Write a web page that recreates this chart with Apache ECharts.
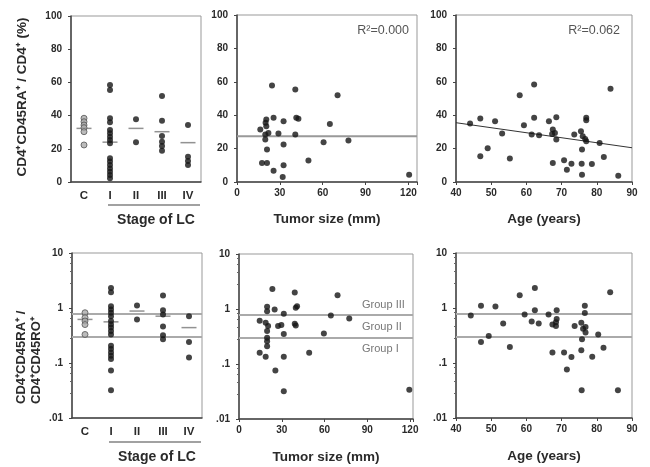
<!DOCTYPE html>
<html>
<head>
<meta charset="utf-8">
<script src="https://cdn.jsdelivr.net/npm/echarts@6/dist/echarts.min.js"></script>
<style>
  html, body { margin: 0; padding: 0; background: #fff; }
  #chart { width: 650px; height: 467px; }
</style>
</head>
<body>
<div id="chart"></div>
<script>
// stage groups
const stages = ['C', 'I', 'II', 'III', 'IV'];

// % CD45RA+ by stage
const pctByStage = [
  ['C', 38.4], ['C', 36.3], ['C', 34.3], ['C', 32.7], ['C', 30.3], ['C', 22.3],
  ['I', 58.4], ['I', 55.4], ['I', 38.4], ['I', 36], ['I', 31.3], ['I', 29.3], ['I', 27.3],
  ['I', 25.3], ['I', 23.3], ['I', 14.3], ['I', 12.3], ['I', 10.2], ['I', 8.2], ['I', 6.2],
  ['I', 4.2], ['I', 2.2],
  ['II', 37.8], ['II', 23.9],
  ['III', 51.8], ['III', 36.9], ['III', 27.7], ['III', 24.3], ['III', 21.7], ['III', 18.9],
  ['IV', 34.3], ['IV', 15.2], ['IV', 12.6], ['IV', 10.2]
];
const pctMeans = [['C', 32.3], ['I', 24], ['II', 32.3], ['III', 30.3], ['IV', 23.7]];

// % vs tumor size
const pctBySize = [
  [24.5, 57.8], [40.8, 55.4], [70.4, 52], [16.3, 31.4], [20.5, 37.4], [20, 35.5],
  [25.6, 38.4], [32.6, 36.4], [41.5, 38.4], [43, 37.8], [65, 34.8], [19.8, 28.4],
  [22, 29.4], [29, 29], [40.8, 28.4], [32.6, 22.4], [60.6, 23.8], [78, 24.8],
  [21, 19.4], [17.5, 11.4], [21, 11.4], [50, 12.8], [32.6, 10], [25.6, 6.8],
  [32, 3], [120.5, 4.4], [20.5, 33.4], [19.8, 25.4]
];
const pctSizeFit = [[0, 27.4], [126, 27.4]];

// % vs age
const pctByAge = [
  [44, 35], [46.9, 38], [51.1, 36.4], [53.1, 29], [46.9, 15.4], [49, 20.2], [55.3, 14],
  [58.1, 52], [62.2, 58.4], [59.3, 34], [62.2, 38.4], [61.5, 28.4], [63.6, 28],
  [66.4, 36.4], [68.5, 38.8], [67.5, 31.4], [68.1, 29.4], [67.3, 28.8], [68.5, 25.4],
  [67.5, 11.4], [70.7, 13], [71.5, 7.4], [72.8, 11], [73.6, 28.4], [75.5, 30.4],
  [76, 27.4], [76.7, 25.8], [77, 24.4], [75.8, 19.4], [75.7, 11], [75.8, 4.4],
  [77, 38.4], [77, 37], [78.6, 10.8], [80.8, 23.4], [82, 15], [83.9, 55.8], [86.1, 3.8]
];
const pctAgeFit = [[40, 35.5], [90, 20.5]];

// RA/RO ratio by stage
const ratioByStage = [
  ['C', 0.82], ['C', 0.67], ['C', 0.58], ['C', 0.5], ['C', 0.33],
  ['I', 2.31], ['I', 1.93], ['I', 1.08], ['I', 0.94], ['I', 0.82], ['I', 0.71], ['I', 0.58],
  ['I', 0.5], ['I', 0.44], ['I', 0.38], ['I', 0.33], ['I', 0.205], ['I', 0.179],
  ['I', 0.156], ['I', 0.135], ['I', 0.118], ['I', 0.073], ['I', 0.032],
  ['II', 1.11], ['II', 0.62],
  ['III', 1.68], ['III', 0.91], ['III', 0.76], ['III', 0.46], ['III', 0.32], ['III', 0.27],
  ['IV', 0.71], ['IV', 0.24], ['IV', 0.126]
];
const ratioMeans = [['C', 0.62], ['I', 0.56], ['II', 0.88], ['III', 0.71], ['IV', 0.44]];

// ratio vs tumor size
const ratioBySize = [
  [23.4, 2.3], [39.1, 2.0], [69.1, 1.78], [19.7, 1.1], [19.7, 0.91], [25, 0.98],
  [40.7, 1.12], [39.8, 1.05], [31.4, 0.82], [64.4, 0.76], [77.3, 0.67], [14.5, 0.61],
  [18.7, 0.56], [20.4, 0.49], [27.4, 0.49], [29.7, 0.51], [39.1, 0.54], [39.8, 0.5],
  [19.7, 0.4], [31.4, 0.35], [59.5, 0.36], [19.7, 0.3], [19.7, 0.26], [19.7, 0.21],
  [14.5, 0.16], [18.7, 0.135], [31.4, 0.135], [49.2, 0.16], [25.5, 0.076],
  [31.4, 0.032], [119.4, 0.034]
];

// ratio vs age
const ratioByAge = [
  [44.2, 0.73], [47.1, 1.1], [51.2, 1.07], [53.4, 0.52], [47.1, 0.24], [49.3, 0.31],
  [55.3, 0.195], [58.1, 1.7], [62.4, 2.3], [59.5, 0.76], [62.4, 0.91], [61.5, 0.57],
  [63.5, 0.52], [66.3, 0.76], [68.6, 0.91], [67.4, 0.5], [68.6, 0.63], [68.4, 0.55],
  [68.4, 0.47], [67.4, 0.156], [70.7, 0.156], [71.5, 0.076], [72.8, 0.129],
  [73.7, 0.47], [75.6, 0.54], [76.1, 0.42], [76.8, 0.45], [76.8, 0.36], [75.8, 0.27],
  [75.6, 0.17], [75.7, 0.032], [76.6, 1.1], [76.6, 0.81], [78.7, 0.13], [80.4, 0.33],
  [81.9, 0.19], [83.8, 1.93], [86, 0.032]
];

// group cut-offs
const groupCuts = [0.78, 0.3];

const chart = echarts.init(document.getElementById('chart'));
const font = 'Liberation Sans, Arial, sans-serif';
const ink = '#2a2a2a';

const tickLabel = { fontFamily: font, fontSize: 10, fontWeight: 'bold', color: ink };
const nameStyle = { fontFamily: font, fontSize: 13.5, fontWeight: 'bold', color: ink };
const axisLine = { show: true, onZero: false, lineStyle: { color: '#444', width: 1.5 } };
const logLabel = v => (v >= 1 ? String(v) : String(v).replace(/^0/, ''));

function linX(idx, min, max, step, name) {
  return {
    type: 'value', gridIndex: idx, min: min, max: max, interval: step,
    name: name, nameLocation: 'middle', nameGap: idx < 3 ? 30 : 31, nameTextStyle: nameStyle,
    axisLine: axisLine, splitLine: { show: false },
    axisTick: { show: true, length: 3, lineStyle: { color: '#444' } },
    axisLabel: Object.assign({ margin: 6, formatter: v => (v % step === 0 ? v : '') }, tickLabel)
  };
}
function catX(idx) {
  return {
    type: 'category', gridIndex: idx, data: stages, boundaryGap: true,
    axisLine: axisLine, axisTick: { show: false },
    axisLabel: Object.assign({ margin: 8 }, tickLabel, { fontSize: 11.5 })
  };
}
function pctY(idx) {
  return {
    type: 'value', gridIndex: idx, min: 0, max: 100, interval: 20,
    axisLine: axisLine, splitLine: { show: false },
    axisTick: { show: true, length: 3, lineStyle: { color: '#444' } },
    axisLabel: Object.assign({ margin: 9 }, tickLabel)
  };
}
function logY(idx) {
  return {
    type: 'log', logBase: 10, gridIndex: idx, min: 0.01, max: 10,
    axisLine: axisLine, splitLine: { show: false },
    axisTick: { show: true, length: 3, lineStyle: { color: '#444' } },
    minorTick: { show: true, splitNumber: 5, length: 2, lineStyle: { color: '#666' } },
    axisLabel: Object.assign({ margin: 9, formatter: logLabel }, tickLabel)
  };
}

const dot = { symbol: 'circle', symbolSize: 6, itemStyle: { color: '#151515' } };
function pts(name, xi, data, extra) {
  return Object.assign({ type: 'scatter', name: name, xAxisIndex: xi, yAxisIndex: xi, data: data, z: 5 }, dot, extra || {});
}
function means(xi, data) {
  return {
    type: 'scatter', xAxisIndex: xi, yAxisIndex: xi, data: data, z: 4,
    symbol: 'rect', symbolSize: [15, 1.5], itemStyle: { color: '#777' }
  };
}
function cuts(xi) {
  return {
    type: 'line', xAxisIndex: xi, yAxisIndex: xi, data: [], silent: true,
    markLine: {
      symbol: 'none', silent: true, label: { show: false },
      lineStyle: { color: '#aaa', width: 2, type: 'solid' },
      data: groupCuts.map(v => ({ yAxis: v }))
    }
  };
}
function splitStage(data, key) {
  return data.filter(d => (key === 'C' ? d[0] === 'C' : d[0] !== 'C'));
}
const ctrlStyle = { itemStyle: { color: '#aaa', borderColor: '#555', borderWidth: 1 } };

const option = {
  animation: false,
  backgroundColor: '#fff',
  grid: [
    { left: 71, top: 16, width: 130, height: 166 },
    { left: 237, top: 15, width: 180, height: 167 },
    { left: 456, top: 15, width: 176, height: 167 },
    { left: 72, top: 253, width: 130, height: 165 },
    { left: 239, top: 254, width: 174, height: 165 },
    { left: 456, top: 253, width: 176, height: 165 }
  ].map(g => Object.assign({ show: true, borderColor: '#999', borderWidth: 1 }, g)),
  xAxis: [
    catX(0),
    linX(1, 0, 126, 30, 'Tumor size (mm)'),
    linX(2, 40, 90, 10, 'Age (years)'),
    catX(3),
    linX(4, 0, 122, 30, 'Tumor size (mm)'),
    linX(5, 40, 90, 10, 'Age (years)')
  ],
  yAxis: [pctY(0), pctY(1), pctY(2), logY(3), logY(4), logY(5)],
  series: [
    means(0, pctMeans),
    pts('control', 0, splitStage(pctByStage, 'C'), ctrlStyle),
    pts('LC', 0, splitStage(pctByStage, 'LC')),
    pts('size', 1, pctBySize),
    { type: 'line', xAxisIndex: 1, yAxisIndex: 1, data: pctSizeFit, symbol: 'none', lineStyle: { color: '#999', width: 2 }, z: 3 },
    pts('age', 2, pctByAge),
    { type: 'line', xAxisIndex: 2, yAxisIndex: 2, data: pctAgeFit, symbol: 'none', lineStyle: { color: '#333', width: 1 }, z: 3 },
    cuts(3),
    means(3, ratioMeans),
    pts('control', 3, splitStage(ratioByStage, 'C'), ctrlStyle),
    pts('LC', 3, splitStage(ratioByStage, 'LC')),
    cuts(4),
    pts('size', 4, ratioBySize),
    cuts(5),
    pts('age', 5, ratioByAge)
  ],
  graphic: [
    // y axis titles
    { type: 'text', x: 22, y: 97, rotation: Math.PI / 2,
      style: { text: 'CD4⁺CD45RA⁺ / CD4⁺ (%)', font: 'bold 13.5px ' + font, fill: ink, textAlign: 'center', textVerticalAlign: 'middle' } },
    { type: 'text', x: 29, y: 404, rotation: Math.PI / 2,
      style: { text: 'CD4⁺CD45RA⁺ /\nCD4⁺CD45RO⁺', font: 'bold 13px ' + font, fill: ink, textAlign: 'left', textVerticalAlign: 'middle', lineHeight: 15 } },
    // stage of LC underlines and titles
    { type: 'line', shape: { x1: 108, y1: 205, x2: 200, y2: 205 }, style: { stroke: '#444', lineWidth: 1.2 } },
    { type: 'text', x: 156, y: 220, style: { text: 'Stage of LC', font: 'bold 14px ' + font, fill: ink, textAlign: 'center', textVerticalAlign: 'middle' } },
    { type: 'line', shape: { x1: 109, y1: 442, x2: 201, y2: 442 }, style: { stroke: '#444', lineWidth: 1.2 } },
    { type: 'text', x: 157, y: 457, style: { text: 'Stage of LC', font: 'bold 14px ' + font, fill: ink, textAlign: 'center', textVerticalAlign: 'middle' } },
    // R squared
    { type: 'text', x: 409, y: 31, style: { text: 'R²=0.000', font: '12.5px ' + font, fill: '#555', textAlign: 'right', textVerticalAlign: 'middle' } },
    { type: 'text', x: 620, y: 31, style: { text: 'R²=0.062', font: '12.5px ' + font, fill: '#555', textAlign: 'right', textVerticalAlign: 'middle' } },
    // group labels
    { type: 'text', x: 362, y: 305, style: { text: 'Group III', font: '11px ' + font, fill: '#777', textAlign: 'left', textVerticalAlign: 'middle' } },
    { type: 'text', x: 362, y: 327, style: { text: 'Group II', font: '11px ' + font, fill: '#777', textAlign: 'left', textVerticalAlign: 'middle' } },
    { type: 'text', x: 362, y: 349, style: { text: 'Group I', font: '11px ' + font, fill: '#777', textAlign: 'left', textVerticalAlign: 'middle' } }
  ]
};
chart.setOption(option);
</script>
</body>
</html>
